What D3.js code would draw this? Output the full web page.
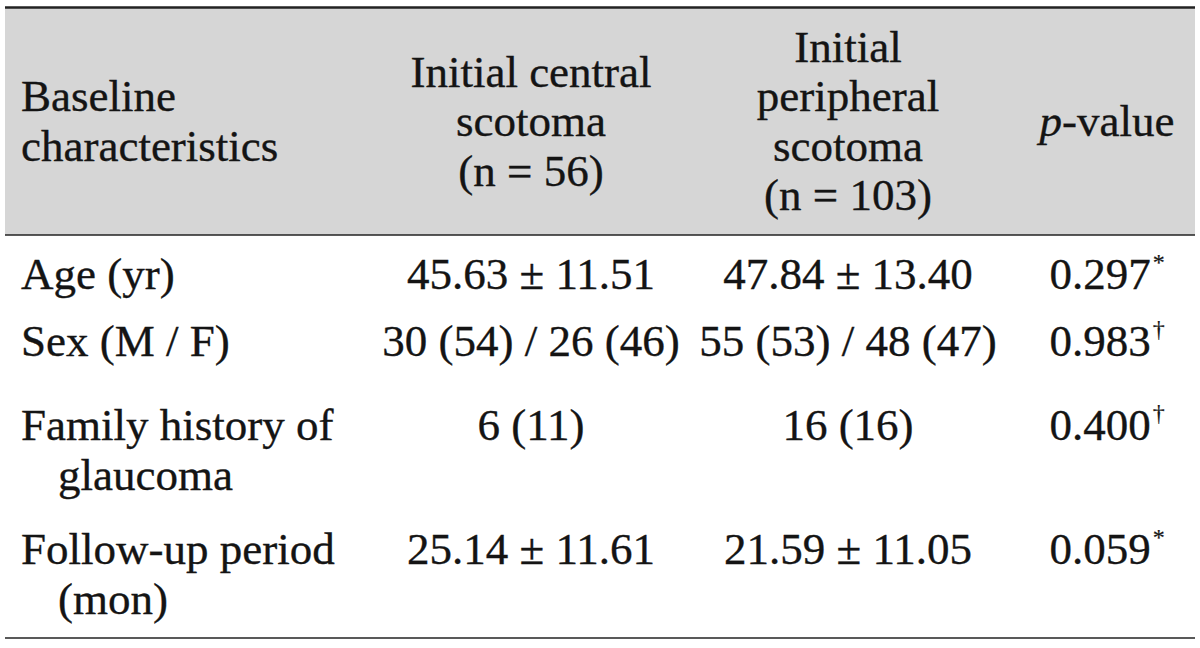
<!DOCTYPE html>
<html>
<head>
<meta charset="utf-8">
<script src="https://cdn.jsdelivr.net/npm/d3@7"></script>
<style>
  html, body { margin: 0; padding: 0; background: #ffffff; }
  svg { display: block; }
</style>
</head>
<body>
<div id="chart"></div>
<script>
// ---------------- data ----------------
const headerLabel = ["Baseline", "characteristics"];
const headerCentral = ["Initial central", "scotoma", "(n = 56)"];
const headerPeripheral = ["Initial", "peripheral", "scotoma", "(n = 103)"];
const headerP = ["p", "-value"];

const rowLabels = [
  ["Age (yr)"],
  ["Sex (M / F)"],
  ["Family history of", "glaucoma"],
  ["Follow-up period", "(mon)"]
];
const centralValues = ["45.63 \u00B1 11.51", "30 (54) / 26 (46)", "6 (11)", "25.14 \u00B1 11.61"];
const peripheralValues = ["47.84 \u00B1 13.40", "55 (53) / 48 (47)", "16 (16)", "21.59 \u00B1 11.05"];
const pValues = ["0.297", "0.983", "0.400", "0.059"];
const pMarks = ["*", "\u2020", "\u2020", "*"];

// ---------------- layout ----------------
const W = 1200, H = 648;
const font = "'Liberation Serif', 'Times New Roman', Times, serif";
const fs = 45, lh = 49.5;
const ink = "#141414";
const tableLeft = 5, tableRight = 1195;
const headerTop = 7.5, headerBottom = 235, tableBottom = 638;
const headerMid = 136;           // baseline of vertical centre in header
const colX = d3.scaleOrdinal()
  .domain(["label", "central", "peripheral", "p"])
  .range([21, 531, 848, 1107]);
const indent = 37;
const rowFirstBaseline = 289;
const rowAdvance = [67, 84, 124];  // baseline-to-baseline distance between rows
const rowY = rowAdvance.reduce((acc, d) => (acc.push(acc[acc.length - 1] + d), acc), [rowFirstBaseline]);

const svg = d3.select("#chart").append("svg")
  .attr("width", W).attr("height", H)
  .attr("viewBox", `0 0 ${W} ${H}`);

svg.append("rect").attr("width", W).attr("height", H).attr("fill", "#ffffff");

// header shading
svg.append("rect")
  .attr("x", tableLeft).attr("y", headerTop)
  .attr("width", tableRight - tableLeft).attr("height", headerBottom - headerTop)
  .attr("fill", "#d6d6d6");

// rules
const rules = [
  {y: headerTop, w: 2.5},
  {y: headerBottom, w: 1.6},
  {y: tableBottom, w: 1.6}
];
svg.selectAll("line.rule").data(rules).join("line")
  .attr("class", "rule")
  .attr("x1", tableLeft).attr("x2", tableRight)
  .attr("y1", d => d.y).attr("y2", d => d.y)
  .attr("stroke", "#222").attr("stroke-width", d => d.w);

const g = svg.append("g")
  .attr("font-family", font)
  .attr("font-size", fs)
  .attr("fill", ink)
  .attr("stroke", ink)
  .attr("stroke-width", 0.35);

// header cells (vertically centred)
function headerCell(lines, key, anchor) {
  const n = lines.length;
  g.selectAll(null).data(lines).join("text")
    .attr("x", colX(key))
    .attr("y", (d, i) => headerMid + (i - (n - 1) / 2) * lh)
    .attr("text-anchor", anchor)
    .text(d => d);
}
headerCell(headerLabel, "label", "start");
headerCell(headerCentral, "central", "middle");
headerCell(headerPeripheral, "peripheral", "middle");

const pHead = g.append("text")
  .attr("x", colX("p")).attr("y", headerMid)
  .attr("text-anchor", "middle");
pHead.append("tspan").attr("font-style", "italic").text(headerP[0]);
pHead.append("tspan").text(headerP[1]);

// body: row labels (continuation lines indented)
rowLabels.forEach((lines, r) => {
  g.selectAll(null).data(lines).join("text")
    .attr("x", (d, i) => colX("label") + (i > 0 ? indent : 0))
    .attr("y", (d, i) => rowY[r] + i * lh)
    .text(d => d);
});

g.selectAll("text.central").data(centralValues).join("text")
  .attr("class", "central")
  .attr("x", colX("central"))
  .attr("y", (d, i) => rowY[i])
  .attr("text-anchor", "middle")
  .text(d => d);

g.selectAll("text.peripheral").data(peripheralValues).join("text")
  .attr("class", "peripheral")
  .attr("x", colX("peripheral"))
  .attr("y", (d, i) => rowY[i])
  .attr("text-anchor", "middle")
  .text(d => d);

const pText = g.selectAll("text.pval").data(pValues).join("text")
  .attr("class", "pval")
  .attr("x", colX("p"))
  .attr("y", (d, i) => rowY[i])
  .attr("text-anchor", "middle");
pText.append("tspan").text(d => d);
pText.append("tspan")
  .attr("font-size", 24)
  .attr("stroke-width", 0.2)
  .attr("dx", 2)
  .attr("dy", -19)
  .text((d, i) => pMarks[i]);
</script>
</body>
</html>
